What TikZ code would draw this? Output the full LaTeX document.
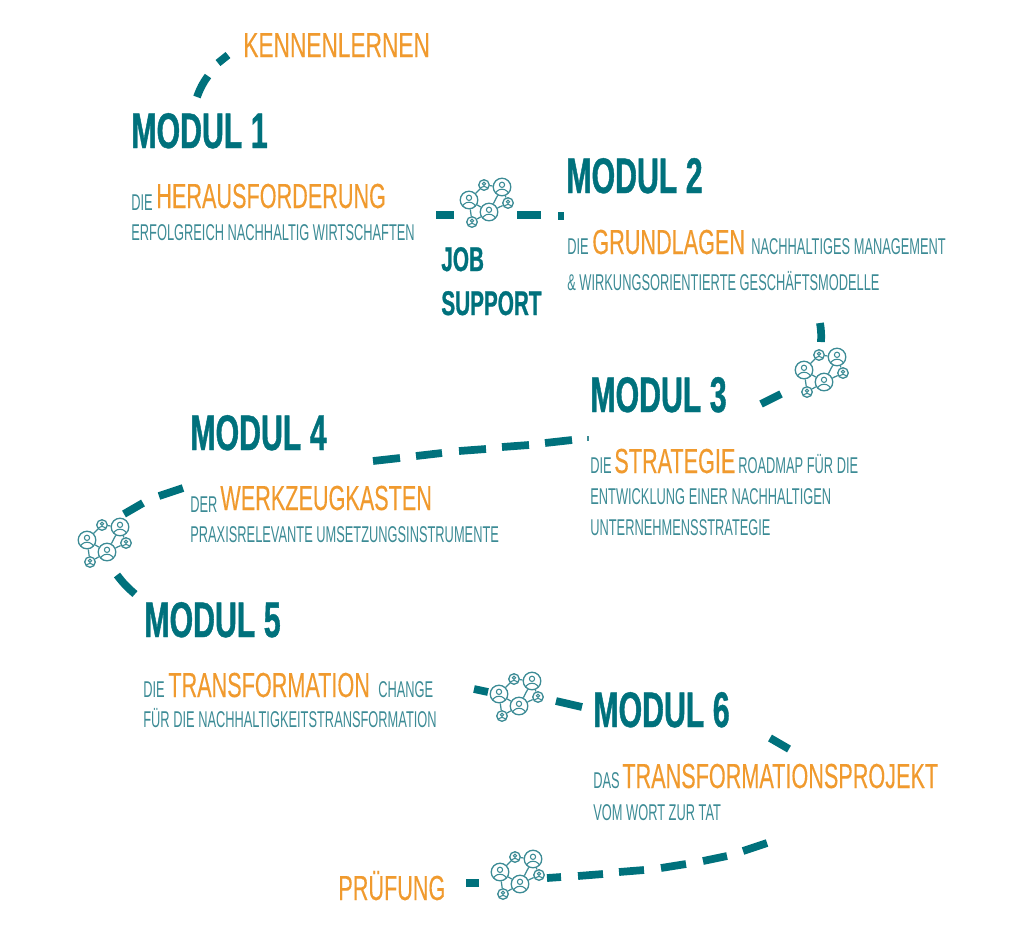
\documentclass[tikz,border=0pt]{standalone}
\usepackage{fontspec}
\newfontfamily\fettfont[FakeStretch=0.605,FakeBold=0.8]{Liberation Sans Bold}
\newfontfamily\langfont[FakeStretch=0.622,FakeBold=0.2]{Liberation Sans}
\newfontfamily\breitfont[FakeStretch=0.652,FakeBold=0.2]{Liberation Sans}
\newfontfamily\kleinfont[FakeStretch=0.562]{Liberation Sans}
\definecolor{petrol}{HTML}{00717C}
\definecolor{hellpetrol}{HTML}{3C8B95}
\definecolor{orangeton}{HTML}{F09A2E}
\newcommand{\netzfigur}[1]{
	\draw[hellpetrol, line width=0.6pt] ([yshift=#1*0.25pt]path picture bounding box.center) circle ({#1*0.3pt});
	\draw[hellpetrol, line width=0.6pt] ([yshift=-#1*1.1pt]path picture bounding box.center) circle ({#1*0.85pt});
}
\tikzset{
	modul/.style={anchor=base west, inner sep=0pt, text=petrol, font=\fettfont\fontsize{28.5}{30}\selectfont},
	titel/.style={anchor=base west, inner sep=0pt, text=orangeton, font=\langfont\fontsize{19.8}{22}\selectfont},
	klein/.style={anchor=base west, inner sep=0pt, text=hellpetrol, font=\kleinfont\fontsize{13}{15}\selectfont},
	jobtext/.style={anchor=base west, inner sep=0pt, text=petrol, font=\fettfont\fontsize{19.5}{22}\selectfont},
	pfad/.style={draw=petrol, line width=4.4pt},
	grossk/.style={circle, draw=hellpetrol, line width=0.75pt, inner sep=0pt, minimum size=10pt, path picture={\netzfigur{5}}},
	kleink/.style={circle, draw=hellpetrol, line width=0.75pt, inner sep=0pt, minimum size=6pt, path picture={\netzfigur{3}}},
	netz/.pic={
		\node[grossk] (l) at (-19, -3) {};
		\node[grossk] (o) at (14, -16) {};
		\node[grossk] (m) at (1, 9) {};
		\node[kleink] (a) at (-4, -18) {};
		\node[kleink] (r) at (20, 0) {};
		\node[kleink] (u) at (-16, 19) {};
		\draw[hellpetrol, line width=0.7pt] (l) -- (a) -- (o) -- (m) -- (l) -- (u) -- (m) -- (r) -- (o);
	}
}

\begin{document}
\begin{tikzpicture}[x=0.02cm, y=-0.02cm]
	\useasboundingbox (0, 0) rectangle (1030, 944);
	
	% start
	\node[titel, font=\breitfont\fontsize{19.8}{22}\selectfont] (kennen) at (243, 57) {KENNENLERNEN};
	\draw[pfad] (197, 97) to[bend left=8] (208, 76);
	\draw[pfad] (218, 63) -- (228, 55);
	
	% modul 1
	\node[modul] (m1) at (131, 148) {MODUL 1};
	\node[klein] (m1a) at (131, 210) {DIE};
	\node[titel] (m1b) at (156, 208) {HERAUSFORDERUNG};
	\node[klein] (m1c) at (131, 240) {ERFOLGREICH NACHHALTIG WIRTSCHAFTEN};
	
	% job support
	\pic (n1) at (488, 203) {netz};
	\draw[pfad] (436, 215) -- (454, 215);
	\draw[pfad] (517, 215) -- (541, 215);
	\draw[pfad] (558, 216) -- (564, 216);
	\node[jobtext] (job) at (441, 271) {JOB};
	\node[jobtext] (support) at (441, 315) {SUPPORT};
	
	% modul 2
	\node[modul] (m2) at (566, 193) {MODUL 2};
	\node[klein] (m2a) at (567, 254) {DIE};
	\node[titel] (m2b) at (592, 254) {GRUNDLAGEN};
	\node[klein] (m2c) at (751, 254) {NACHHALTIGES MANAGEMENT};
	\node[klein] (m2d) at (567, 290) {\& WIRKUNGSORIENTIERTE GESCHÄFTSMODELLE};
	
	% modul 3
	\draw[pfad] (820, 323) to[bend left=6] (821, 342);
	\pic (n2) at (823, 373) {netz};
	\draw[pfad] (761, 404) -- (781, 394);
	\node[modul] (m3) at (590, 412) {MODUL 3};
	\node[klein] (m3a) at (590, 473) {DIE};
	\node[titel] (m3b) at (614, 473) {STRATEGIE};
	\node[klein] (m3c) at (738, 473) {ROADMAP FÜR DIE};
	\node[klein] (m3d) at (590, 504) {ENTWICKLUNG EINER NACHHALTIGEN};
	\node[klein] (m3e) at (590, 535) {UNTERNEHMENSSTRATEGIE};
	
	% lange linie
	\draw[pfad] (373, 461) -- (400, 458);
	\draw[pfad] (416, 456) -- (442, 453);
	\draw[pfad] (459, 451) -- (486, 449);
	\draw[pfad] (502, 447) -- (529, 445);
	\draw[pfad] (545, 443) -- (572, 440);
	\draw[hellpetrol, line width=1pt] (588, 436) -- (588, 441);
	
	% modul 4
	\node[modul] (m4) at (190, 450) {MODUL 4};
	\node[klein] (m4a) at (190, 512) {DER};
	\node[titel] (m4b) at (220, 510) {WERKZEUGKASTEN};
	\node[klein] (m4c) at (190, 542) {PRAXISRELEVANTE UMSETZUNGSINSTRUMENTE};
	\draw[pfad] (183, 488) -- (159, 496);
	\draw[pfad] (143, 503) -- (124, 514);
	\pic (n3) at (106, 543) {netz};
	\draw[pfad] (117, 575) to[bend right=6] (135, 594);
	
	% modul 5
	\node[modul] (m5) at (144, 637) {MODUL 5};
	\node[klein] (m5a) at (143, 697) {DIE};
	\node[titel] (m5b) at (168, 697) {TRANSFORMATION};
	\node[klein] (m5c) at (378, 697) {CHANGE};
	\node[klein] (m5d) at (143, 727) {FÜR DIE NACHHALTIGKEITSTRANSFORMATION};
	\draw[pfad] (474, 689) -- (488, 692);
	\pic (n4) at (518, 697) {netz};
	\draw[pfad] (556, 701) -- (582, 707);
	
	% modul 6
	\node[modul] (m6) at (593, 727) {MODUL 6};
	\draw[pfad] (770, 738) -- (789, 749);
	\node[klein] (m6a) at (593, 788) {DAS};
	\node[titel] (m6b) at (622, 788) {TRANSFORMATIONSPROJEKT};
	\node[klein] (m6c) at (593, 820) {VOM WORT ZUR TAT};
	
	% pruefung
	\draw[pfad] (767, 843) -- (743, 851);
	\draw[pfad] (727, 856) -- (703, 861);
	\draw[pfad] (686, 864) -- (661, 868);
	\draw[pfad] (644, 870) -- (619, 872);
	\draw[pfad] (603, 874) -- (578, 876);
	\draw[pfad] (561, 877) -- (547, 878);
	\pic (n5) at (519, 875) {netz};
	\draw[pfad] (479, 883) -- (466, 883);
	\node[titel] (pruef) at (338, 900) {PRÜFUNG};
\end{tikzpicture}
\end{document}
